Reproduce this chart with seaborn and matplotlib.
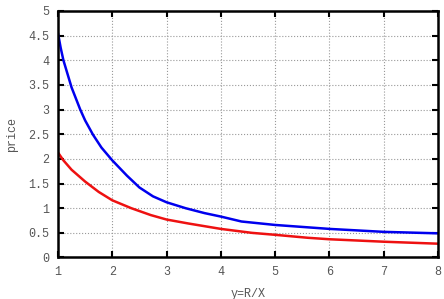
import pandas as pd
import seaborn as sns
import matplotlib.pyplot as plt

# values
x_blue = [1, 1.05, 1.1, 1.25, 1.41, 1.5, 1.645, 1.8, 2, 2.27, 2.5, 2.75, 3, 3.35, 3.7, 4, 4.38, 5, 5.5, 6, 7, 8]
price_blue = [4.55, 4.25, 4.0, 3.45, 3.0, 2.78, 2.49, 2.23, 1.97, 1.66, 1.42, 1.24, 1.12, 1.0, 0.9, 0.83, 0.73, 0.66, 0.62, 0.58, 0.52, 0.49]
x_red = [1, 1.05, 1.1, 1.25, 1.5, 1.75, 2, 2.35, 2.71, 3, 3.4, 4, 4.57, 5, 5.6, 6, 7, 8]
price_red = [2.13, 2.05, 1.97, 1.78, 1.54, 1.33, 1.16, 1.0, 0.86, 0.77, 0.69, 0.58, 0.5, 0.46, 0.4, 0.37, 0.32, 0.28]

df = pd.DataFrame({
    "x": x_blue + x_red,
    "price": price_blue + price_red,
    "series": ["blue"] * len(x_blue) + ["red"] * len(x_red),
})

sns.set_style("ticks")
plt.rcParams["font.family"] = ["Liberation Mono", "DejaVu Sans Mono"]

fig = plt.figure(figsize=(4.44, 2.99), dpi=100)
ax = fig.add_axes([0.1306, 0.1388, 0.856, 0.8245])

sns.lineplot(data=df, x="x", y="price", hue="series",
             palette={"blue": "#0000ee", "red": "#ee1111"},
             linewidth=1.8, legend=False, ax=ax)

ax.set_xlim(1, 8)
ax.set_ylim(0, 5)
ax.set_xticks(range(1, 9))
ax.set_yticks([0, 0.5, 1, 1.5, 2, 2.5, 3, 3.5, 4, 4.5, 5])
ax.set_yticklabels(["0", "0.5", "1", "1.5", "2", "2.5", "3", "3.5", "4", "4.5", "5"])
ax.grid(True, linestyle=":", color="#999999", linewidth=0.8)
ax.tick_params(direction="in", length=4, width=1.5, top=True, right=True,
               labelsize=8.5, labelcolor="#555555", colors="black", pad=6)
for s in ax.spines.values():
    s.set_linewidth(1.8)
    s.set_color("black")
    s.set_visible(True)

ax.set_xlabel("y=R/X", fontsize=8.5, color="#555555", labelpad=7)
ax.set_ylabel("price", fontsize=8.5, color="#555555", labelpad=8)

fig.savefig("out.png", dpi=100)
